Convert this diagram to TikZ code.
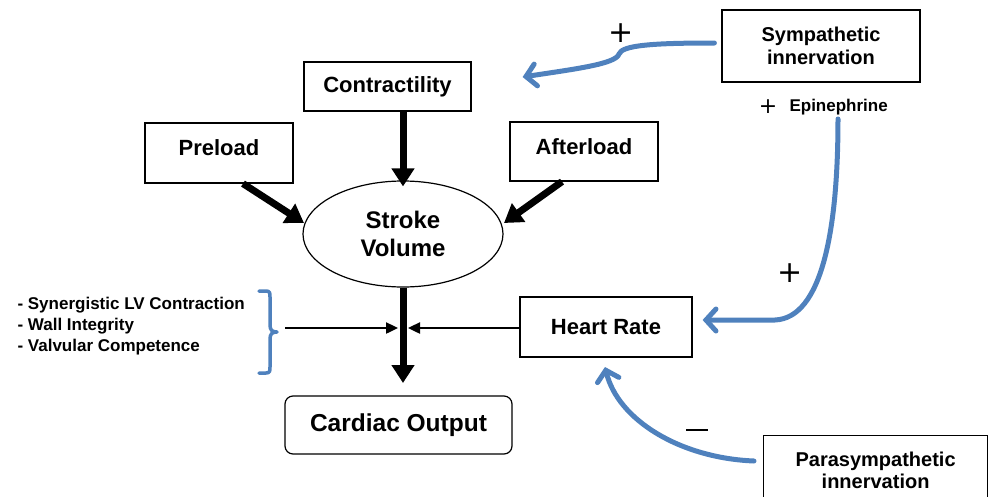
\documentclass[tikz,border=0pt]{standalone}
\usepackage{fontspec}
\setmainfont{Liberation Sans}
\newfontfamily\symfont{DejaVu Sans}
\usetikzlibrary{arrows.meta,shapes.geometric}
\definecolor{myblue}{RGB}{79,129,189}
\begin{document}
\begin{tikzpicture}[x=1pt,y=-1pt,
  box/.style={draw,line width=1.2pt,inner sep=0pt,font=\bfseries\fontsize{22}{26}\selectfont,align=center},
  fat/.style={line width=7pt,-{Triangle[width=22pt,length=18pt]}},
  thin/.style={line width=2.4pt,-{Triangle[width=11pt,length=12pt]}},
  blue/.style={draw=myblue,line width=5pt,line cap=round,-{Straight Barb[length=10pt,width=22pt,line cap=round]}},
  sgn/.style={font=\symfont\fontsize{30}{30}\selectfont,inner sep=0pt}]
\useasboundingbox (0,0) rectangle (989,496);
\node[box,minimum width=167pt,minimum height=49pt] (con) at (387.5,86.5) {Contractility};
\node[box,minimum width=148pt,minimum height=60pt] (pre) at (219,153) {\raisebox{10pt}{Preload}};
\node[box,minimum width=148pt,minimum height=59pt] (aft) at (584,151.5) {\raisebox{10pt}{Afterload}};
\node[draw,line width=1.2pt,ellipse,minimum width=200pt,minimum height=106pt,inner sep=0pt,align=center,font=\bfseries\fontsize{24}{28}\selectfont] (sv) at (403,234) {Stroke\\Volume};
\node[box,minimum width=198pt,minimum height=72pt,font=\bfseries\fontsize{20}{23}\selectfont] (sym) at (821,46) {Sympathetic\\innervation};
\node[font=\bfseries\fontsize{17}{20}\selectfont,anchor=west] (epi) at (786,107) {Epinephrine};
\node[sgn,font=\symfont\fontsize{22}{22}\selectfont] (p0) at (768,107) {+};
\node[box,minimum width=172pt,minimum height=60pt] (hr) at (606,327) {Heart Rate};
\node[box,rounded corners=8pt,minimum width=227pt,minimum height=58pt,font=\bfseries\fontsize{24.5}{28}\selectfont] (co) at (398.5,425) {Cardiac Output};
\node[box,minimum width=224pt,minimum height=70pt,font=\bfseries\fontsize{20}{22}\selectfont,anchor=north west] (para) at (763,435) {\\[-8pt]Parasympathetic\\innervation};
\node[font=\bfseries\fontsize{17}{21}\selectfont,align=left,anchor=west] (list) at (14,326) {- Synergistic LV Contraction\\- Wall Integrity\\- Valvular Competence};
\node[sgn] (p1) at (621,33) {+};
\node[sgn] (p2) at (790,273) {+};
\node[inner sep=0pt] (m1) at (697,430) {\rule{22pt}{2.2pt}};
% bracket
\coordinate (bt) at (277,332);
\draw[myblue,line width=3.5pt,line cap=round,line join=round] (259,291) -- (266,291) .. controls (270,291) and (270,293) .. (270,297) -- (270,325) .. controls (270,330) and (272,332) .. (bt) .. controls (272,332) and (270,334) .. (270,339) -- (270,367) .. controls (270,371) and (270,373) .. (266,373) -- (259,373);
% black arrows
\draw[fat] (con.south -| sv.north) -- ([yshift=-6pt]sv.north);
\draw[fat] (pre.south -| 243,0) -- (304,223);
\draw[fat] (aft.south -| 562,0) -- (504,223);
\coordinate (mid) at (403,328);
\draw[fat] (sv.south) -- (403,383);
\coordinate (ls) at (285,328);
\draw[thin] (ls) -- (398,328);
\draw[thin] (hr.west |- mid) -- (408,328);
% blue arrows
\coordinate (cont) at ([xshift=51pt]con.east |- 0,77);
\draw[blue] ([xshift=-7pt]sym.west |- 0,43) .. controls (655,43) and (622,45) .. (619,54) .. controls (616,64) and (575,69) .. (cont);
\draw[blue] (838,119) .. controls (838,230) and (822,318) .. (775,320) -- ([xshift=10pt]hr.east |- 0,320);
\draw[blue] ([xshift=-9pt]para.west |- 0,461) .. controls (680,458) and (618,420) .. (605,367);
\end{tikzpicture}
\end{document}
